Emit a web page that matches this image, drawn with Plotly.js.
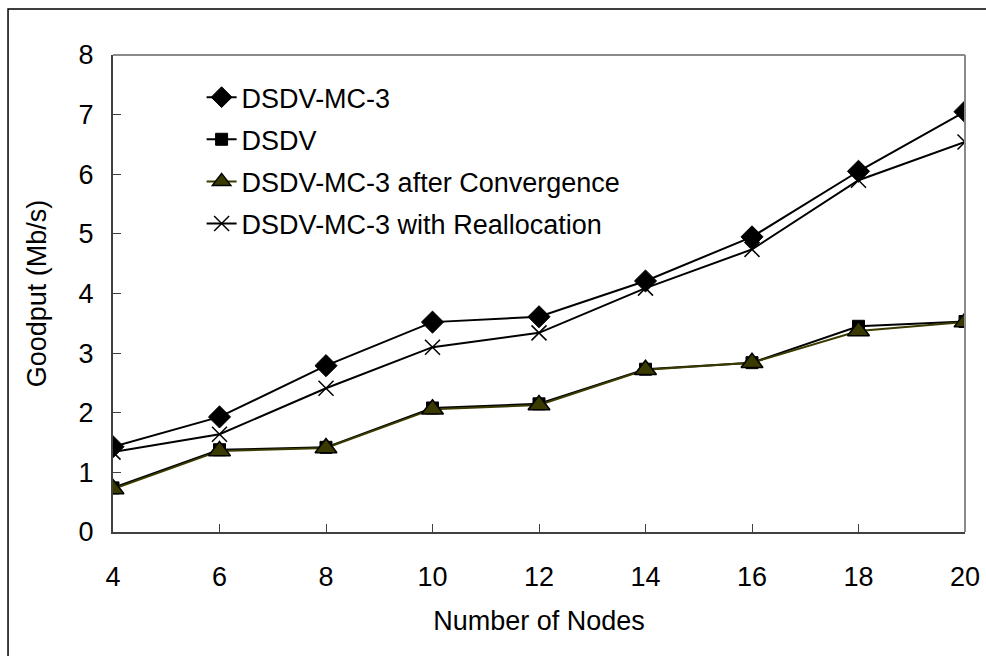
<!DOCTYPE html>
<html>
<head>
<meta charset="utf-8">
<script src="https://cdn.plot.ly/plotly-3.0.1.min.js"></script>
<style>html,body{margin:0;padding:0;background:#fff;}#chart{width:986px;height:656px;}</style>
</head>
<body>
<div id="chart"></div>
<script>
const nodes = [4, 6, 8, 10, 12, 14, 16, 18, 20];
const dsdvMc3 = [1.43, 1.93, 2.79, 3.52, 3.61, 4.21, 4.95, 6.05, 7.05];
const dsdv = [0.74, 1.38, 1.42, 2.08, 2.15, 2.73, 2.84, 3.45, 3.53];
const dsdvMc3Conv = [0.72, 1.36, 1.41, 2.06, 2.13, 2.72, 2.84, 3.37, 3.52];
const dsdvMc3Realloc = [1.34, 1.64, 2.41, 3.10, 3.34, 4.09, 4.74, 5.90, 6.54];
const seriesNames = ["DSDV-MC-3", "DSDV", "DSDV-MC-3 after Convergence", "DSDV-MC-3 with Reallocation"];
const xTicks = [4, 6, 8, 10, 12, 14, 16, 18, 20];
const yTicks = [0, 1, 2, 3, 4, 5, 6, 7, 8];

const FONT = "Liberation Sans, Arial, sans-serif";
const FS = 27;
const olive = "#3a3a00";

const traces = [
  {x: nodes, y: dsdvMc3, name: seriesNames[0], legendgroup: "a", mode: "lines+markers",
   line: {color: "#000", width: 2},
   marker: {symbol: "diamond", size: 17, color: "#000", line: {color: "#000", width: 1}}},
  {x: nodes, y: dsdv, name: seriesNames[1], legendgroup: "b", mode: "lines+markers",
   line: {color: "#000", width: 2},
   marker: {symbol: "square", size: 12, color: "#000", line: {color: "#000", width: 1}}},
  {x: nodes, y: dsdvMc3Conv, name: seriesNames[2], legendgroup: "c", mode: "lines+markers",
   line: {color: olive, width: 2},
   marker: {symbol: "triangle-up", size: 19, color: olive, line: {color: "#000", width: 1.5}}},
  {x: nodes, y: dsdvMc3Realloc, name: seriesNames[3], legendgroup: "d", mode: "lines+markers",
   line: {color: "#000", width: 2},
   marker: {symbol: "x-thin-open", size: 15, color: "#000", line: {color: "#000", width: 1.5}}}
];

const layout = {
  width: 986, height: 656,
  margin: {l: 113, r: 21, t: 55, b: 124},
  paper_bgcolor: "#fff", plot_bgcolor: "#fff",
  font: {family: FONT, size: FS, color: "#000"},
  showlegend: true,
  legend: {x: 0.104, y: 0.962, xanchor: "left", yanchor: "top",
    bgcolor: "rgba(0,0,0,0)", font: {family: FONT, size: FS, color: "#000"},
    tracegroupgap: 4, itemwidth: 30, traceorder: "grouped"},
  xaxis: {range: [4, 20], tickvals: xTicks, ticktext: xTicks.map(String),
    showgrid: false, zeroline: false, showline: true, linecolor: "#404040", linewidth: 2,
    ticks: "inside", ticklen: 8, tickcolor: "#404040", ticklabelstandoff: 20,
    tickfont: {family: FONT, size: FS, color: "#000"},
    title: {text: "Number of Nodes", font: {family: FONT, size: FS, color: "#000"}, standoff: 20},
    mirror: false},
  yaxis: {range: [0, 8], tickvals: yTicks, ticktext: yTicks.map(String),
    showgrid: false, zeroline: false, showline: true, linecolor: "#404040", linewidth: 2,
    ticks: "inside", ticklen: 8, tickcolor: "#404040", ticklabelstandoff: 12,
    tickfont: {family: FONT, size: FS, color: "#000"},
    title: {text: "Goodput (Mb/s)", font: {family: FONT, size: FS, color: "#000"}, standoff: 24}},
  shapes: [
    {type: "line", xref: "paper", yref: "paper", x0: 0, x1: 1, y0: 1, y1: 1, line: {color: "#8a8a8a", width: 2}},
    {type: "line", xref: "paper", yref: "paper", x0: 1, x1: 1, y0: 0, y1: 1, line: {color: "#8a8a8a", width: 2}},
    {type: "rect", xref: "paper", yref: "paper", x0: -0.1232, x1: 1.05, y0: -0.3, y1: 1.0964, line: {color: "#000", width: 1.5}, layer: "below"}
  ]
};

Plotly.newPlot("chart", traces, layout, {displayModeBar: false, staticPlot: true});
</script>
</body>
</html>
